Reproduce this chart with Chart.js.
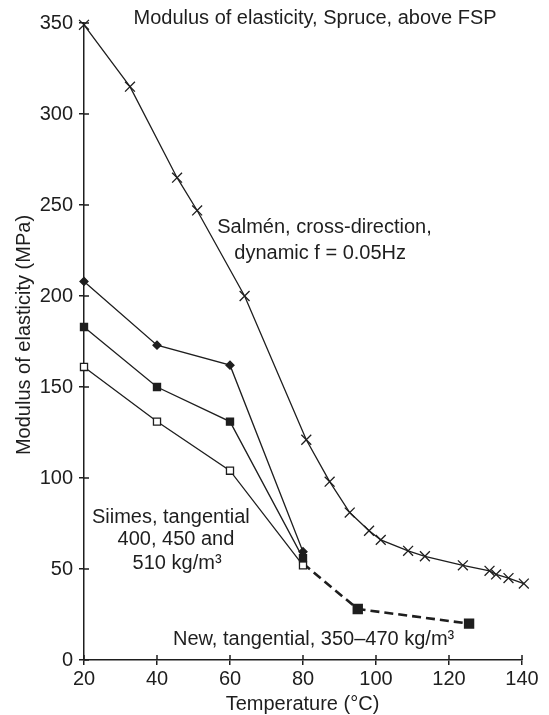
<!DOCTYPE html>
<html>
<head>
<meta charset="utf-8">
<script src="https://cdn.jsdelivr.net/npm/chart.js@4/dist/chart.umd.min.js"></script>
<style>
  body { margin: 0; background: #fff; }
  canvas { display: block; }
</style>
</head>
<body>
<canvas id="myChart" width="549" height="715"></canvas>
<script>
// Salmén, cross-direction, dynamic f = 0.05Hz
var salmenTemp = [20, 32.6, 45.5, 51, 64, 80.9, 87.3, 92.8, 98.1, 101.3, 108.8, 113.4, 123.8, 131.1, 132.9, 136.3, 140.5];
var salmenMoe = [349, 315, 265, 247, 200, 121, 98, 81, 71, 66, 60, 57, 52, 49, 47, 45, 42];

// Siimes, tangential, three densities
var siimesTemp = [20, 40, 60, 80];
var siimes400 = [161, 131, 104, 52];
var siimes450 = [183, 150, 131, 56];
var siimes510 = [208, 173, 162, 59.5];

// New, tangential, 350-470 kg/m3
var newTemp = [80, 95, 125.5];
var newMoe = [53, 28, 20];

var xTicks = [20, 40, 60, 80, 100, 120, 140];
var yTicks = [0, 50, 100, 150, 200, 250, 300, 350];

var ink = '#1e1e1e';
var font = '"Liberation Sans", Arial, Helvetica, sans-serif';

function pts(xs, ys) {
    return xs.map(function (x, i) { return { x: x, y: ys[i] }; });
}

// text placed in data units
var notes = [
    { x: 83.3, y: 352.5, text: 'Modulus of elasticity, Spruce, above FSP' },
    { x: 85.9, y: 237.5, text: 'Salmén, cross-direction,' },
    { x: 84.7, y: 223.5, text: 'dynamic f = 0.05Hz' },
    { x: 43.8, y: 78.5, text: 'Siimes, tangential' },
    { x: 45.2, y: 66.0, text: '400, 450 and' },
    { x: 45.5, y: 53.0, text: '510 kg/m³' },
    { x: 82.9, y: 11.5, text: 'New, tangential, 350–470 kg/m³' }
];

var decor = {
    id: 'decor',
    afterDraw: function (chart) {
        var c = chart.ctx, xs = chart.scales.x, ys = chart.scales.y, a = chart.chartArea;
        c.save();
        // tick marks on the inside of both axes
        c.strokeStyle = ink;
        c.lineWidth = 1.5;
        c.beginPath();
        yTicks.forEach(function (v) {
            var py = ys.getPixelForValue(v);
            c.moveTo(a.left, py); c.lineTo(a.left + 5, py);
        });
        xTicks.forEach(function (v) {
            var px = xs.getPixelForValue(v);
            c.moveTo(px, a.bottom); c.lineTo(px, a.bottom - 5);
        });
        c.stroke();

        c.fillStyle = ink;
        c.font = '20px ' + font;
        c.textAlign = 'center';
        c.textBaseline = 'middle';
        notes.forEach(function (n) {
            c.fillText(n.text, xs.getPixelForValue(n.x), ys.getPixelForValue(n.y));
        });

        // axis titles
        c.fillText('Temperature (°C)', 302.5, 704);
        c.translate(24, 335);
        c.rotate(-Math.PI / 2);
        c.fillText('Modulus of elasticity (MPa)', 0, 0);
        c.restore();
    }
};

var ctx = document.getElementById('myChart').getContext('2d');
var myChart = new Chart(ctx, {
    type: 'scatter',
    data: {
        datasets: [{
            label: 'Salmén',
            data: pts(salmenTemp, salmenMoe),
            showLine: true,
            borderColor: ink,
            borderWidth: 1.3,
            pointStyle: 'crossRot',
            pointRadius: 7,
            pointBorderWidth: 1.3,
            pointBorderColor: ink
        }, {
            label: '510',
            data: pts(siimesTemp, siimes510),
            showLine: true,
            borderColor: ink,
            borderWidth: 1.3,
            pointStyle: 'rectRot',
            pointRadius: 4,
            pointBackgroundColor: ink,
            pointBorderColor: ink
        }, {
            label: '450',
            data: pts(siimesTemp, siimes450),
            showLine: true,
            borderColor: ink,
            borderWidth: 1.3,
            pointStyle: 'rect',
            pointRadius: 5,
            pointBackgroundColor: ink,
            pointBorderColor: ink
        }, {
            label: '400',
            data: pts(siimesTemp, siimes400),
            showLine: true,
            borderColor: ink,
            borderWidth: 1.3,
            pointStyle: 'rect',
            pointRadius: 5,
            pointBackgroundColor: '#fff',
            pointBorderColor: ink,
            pointBorderWidth: 1.3
        }, {
            label: 'New',
            data: pts(newTemp, newMoe),
            showLine: true,
            borderColor: ink,
            borderWidth: 2.6,
            borderDash: [9, 5],
            pointStyle: 'rect',
            pointRadius: [0, 5.5, 5.5],
            pointBackgroundColor: ink,
            pointBorderColor: ink
        }]
    },
    options: {
        responsive: false,
        animation: false,
        clip: false,
        layout: { padding: { top: 23, right: 27, left: 0, bottom: 0 } },
        plugins: {
            legend: { display: false },
            tooltip: { enabled: false }
        },
        scales: {
            x: {
                type: 'linear',
                min: 20,
                max: 140,
                afterFit: function (s) { s.height = 55; },
                afterBuildTicks: function (s) { s.ticks = xTicks.map(function (v) { return { value: v }; }); },
                border: { display: true, color: ink, width: 1.5 },
                grid: { drawOnChartArea: false, color: ink, lineWidth: 1.5, tickLength: 5 },
                ticks: { color: ink, font: { size: 20, family: font }, padding: 2, maxRotation: 0 }
            },
            y: {
                type: 'linear',
                min: 0,
                max: 350,
                afterFit: function (s) { s.width = 84; },
                afterBuildTicks: function (s) { s.ticks = yTicks.map(function (v) { return { value: v }; }); },
                border: { display: true, color: ink, width: 1.5 },
                grid: { drawOnChartArea: false, color: ink, lineWidth: 1.5, tickLength: 5 },
                ticks: { color: ink, font: { size: 20, family: font }, padding: 6 }
            }
        }
    },
    plugins: [decor]
});
</script>
</body>
</html>
